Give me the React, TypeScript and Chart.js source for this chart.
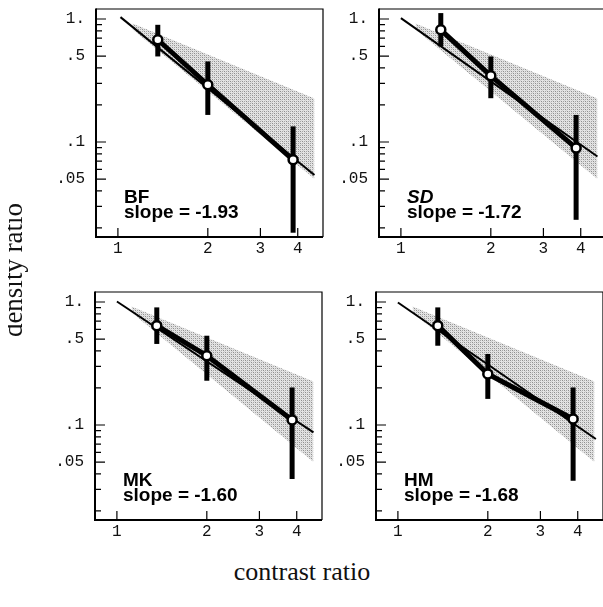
import React, { useEffect, useRef } from "react";
import { Chart, registerables } from "chart.js";

Chart.register(...registerables);

// ---------- data ----------
const contrastRatio = [1.36, 2.0, 3.86];

const xTickValues = [1, 2, 3, 4];
const xTickLabels = ["1", "2", "3", "4"];
const yTickValues = [1, 0.5, 0.1, 0.05];
const yTickLabels = ["1.", ".5", ".1", ".05"];
const yMinorTicks = [0.9, 0.8, 0.7, 0.6, 0.4, 0.3, 0.2, 0.09, 0.08, 0.07, 0.06, 0.04, 0.03, 0.02];

// predicted region (stippled wedge)
const bandX = [1.12, 4.55];
const bandUpper = [0.92, 0.226];
const bandLower = [0.82, 0.05];

const observers = ["BF", "SD", "MK", "HM"];
const slopeLabels = ["-1.93", "-1.72", "-1.60", "-1.68"];

const bfDensity = [0.678, 0.292, 0.0717];
const bfLow = [0.496, 0.166, 0.0183];
const bfHigh = [0.897, 0.452, 0.134];
const bfFitX = [1.02, 4.55];
const bfFitY = [1.036, 0.054];

const sdDensity = [0.817, 0.345, 0.0892];
const sdLow = [0.598, 0.227, 0.0233];
const sdHigh = [1.117, 0.496, 0.166];
const sdFitX = [1.0, 4.55];
const sdFitY = [1.017, 0.0762];

const mkDensity = [0.642, 0.366, 0.11];
const mkLow = [0.456, 0.229, 0.0364];
const mkHigh = [0.904, 0.532, 0.202];
const mkFitX = [1.0, 4.55];
const mkFitY = [1.01, 0.087];

const hmDensity = [0.642, 0.26, 0.112];
const hmLow = [0.441, 0.163, 0.0352];
const hmHigh = [0.904, 0.378, 0.202];
const hmFitX = [1.0, 4.6];
const hmFitY = [0.99, 0.0769];

const panelData = [
  { density: bfDensity, low: bfLow, high: bfHigh, fitX: bfFitX, fitY: bfFitY },
  { density: sdDensity, low: sdLow, high: sdHigh, fitX: sdFitX, fitY: sdFitY },
  { density: mkDensity, low: mkLow, high: mkHigh, fitX: mkFitX, fitY: mkFitY },
  { density: hmDensity, low: hmLow, high: hmHigh, fitX: hmFitX, fitY: hmFitY },
];

// ---------- layout ----------
const AREA = 228;
const Y_AXIS_W = 96;
const PAD_TOP = 26;
const PAD_RIGHT = 6;
const X_AXIS_H = 36;
const panelLeft = [96, 379, 95, 376];
const panelTop = [9, 9, 292, 292];

const X_MIN = Math.pow(10, -22 / 300);
const X_MAX = Math.pow(10, (AREA - 22) / 300);
const Y_MAX = Math.pow(10, 10 / 123);
const Y_MIN = Math.pow(10, -(AREA - 10) / 123);

const TICK_FONT = '"Liberation Mono", "DejaVu Sans Mono", monospace';

function makePattern(): CanvasPattern | string {
  const c = document.createElement("canvas");
  c.width = 4;
  c.height = 4;
  const g = c.getContext("2d");
  if (!g) return "#c4c4c4";
  g.fillStyle = "#e4e4e4";
  g.fillRect(0, 0, 4, 4);
  g.fillStyle = "#8e8e8e";
  g.fillRect(0, 0, 1, 1);
  g.fillRect(2, 2, 1, 1);
  g.fillStyle = "#a6a6a6";
  g.fillRect(2, 0, 1, 1);
  g.fillRect(0, 2, 1, 1);
  g.fillStyle = "#cfcfcf";
  g.fillRect(1, 1, 1, 1);
  g.fillRect(3, 3, 1, 1);
  const p = g.createPattern(c, "repeat");
  return p || "#c4c4c4";
}

const framePlugin = {
  id: "frameTicks",
  afterDraw(chart: any) {
    const ctx = chart.ctx;
    const a = chart.chartArea;
    const xs = chart.scales.x;
    const ys = chart.scales.y;
    ctx.save();
    ctx.strokeStyle = "#000";
    ctx.lineWidth = 1.2;
    ctx.beginPath();
    ctx.moveTo(a.left, a.top);
    ctx.lineTo(a.right, a.top);
    ctx.lineTo(a.right, a.bottom);
    ctx.stroke();
    ctx.lineWidth = 2;
    ctx.beginPath();
    ctx.moveTo(a.left, a.top - 0.5);
    ctx.lineTo(a.left, a.bottom);
    ctx.lineTo(a.right, a.bottom);
    ctx.stroke();
    ctx.lineWidth = 1.2;
    ctx.beginPath();
    xTickValues.forEach((v) => {
      const px = xs.getPixelForValue(v);
      ctx.moveTo(px, a.bottom);
      ctx.lineTo(px, a.bottom - 9);
    });
    yTickValues.forEach((v) => {
      const py = ys.getPixelForValue(v);
      ctx.moveTo(a.left, py);
      ctx.lineTo(a.left + 10, py);
    });
    yMinorTicks.forEach((v) => {
      const py = ys.getPixelForValue(v);
      ctx.moveTo(a.left, py);
      ctx.lineTo(a.left + 6, py);
    });
    ctx.stroke();
    const opts = chart.options.plugins.frameTicks || {};
    ctx.fillStyle = "#000";
    ctx.textAlign = "left";
    ctx.textBaseline = "alphabetic";
    ctx.font = (opts.italic ? "italic " : "") + 'bold 19px "Liberation Sans", Arial, sans-serif';
    ctx.fillText(opts.name || "", a.left + 28, a.top + 194);
    ctx.font = 'bold 19px "Liberation Sans", Arial, sans-serif';
    ctx.fillText("slope = " + (opts.slope || ""), a.left + 28, a.top + 209);
    ctx.restore();
  },
};

function Panel({ index }: { index: number }) {
  const ref = useRef<HTMLCanvasElement | null>(null);
  useEffect(() => {
    if (!ref.current) return;
    const d = panelData[index];
    const pattern = makePattern();
    const pts = (xsArr: number[], ysArr: number[]) => xsArr.map((x, i) => ({ x, y: ysArr[i] }));
    const errorSets = contrastRatio.map((x, i) => ({
      data: [
        { x, y: d.low[i] },
        { x, y: d.high[i] },
      ],
      showLine: true,
      borderColor: "#000",
      borderWidth: 5,
      borderCapStyle: "butt",
      pointRadius: 0,
      fill: false,
      order: 2,
    }));
    const chart = new Chart(ref.current, {
      type: "line",
      data: {
        datasets: [
          {
            data: pts(bandX, bandUpper),
            showLine: true,
            borderWidth: 0,
            borderColor: "rgba(0,0,0,0)",
            pointRadius: 0,
            backgroundColor: pattern as any,
            fill: "+1",
            order: 6,
          },
          {
            data: pts(bandX, bandLower),
            showLine: true,
            borderWidth: 0,
            borderColor: "rgba(0,0,0,0)",
            pointRadius: 0,
            fill: false,
            order: 6,
          },
          {
            data: pts(d.fitX, d.fitY),
            showLine: true,
            borderColor: "#000",
            borderWidth: 2,
            pointRadius: 0,
            fill: false,
            order: 4,
          },
          {
            data: pts(contrastRatio, d.density),
            showLine: true,
            borderColor: "#000",
            borderWidth: 5,
            borderJoinStyle: "round",
            pointRadius: 0,
            fill: false,
            order: 3,
          },
          ...errorSets,
          {
            data: pts(contrastRatio, d.density),
            showLine: false,
            pointRadius: 4.5,
            pointBackgroundColor: "#fff",
            pointBorderColor: "#000",
            pointBorderWidth: 2.5,
            fill: false,
            order: 1,
          },
        ] as any,
      },
      options: {
        animation: false,
        responsive: false,
        events: [],
        layout: { padding: { top: PAD_TOP, right: PAD_RIGHT, left: 0, bottom: 0 } },
        plugins: {
          legend: { display: false },
          tooltip: { enabled: false },
          frameTicks: { name: observers[index], slope: slopeLabels[index], italic: index === 1 },
        } as any,
        scales: {
          x: {
            type: "logarithmic",
            position: "bottom",
            min: X_MIN,
            max: X_MAX,
            bounds: "data",
            grid: { display: false, drawTicks: false },
            border: { display: false },
            ticks: {
              autoSkip: false,
              maxRotation: 0,
              padding: 2,
              color: "#111",
              font: { family: TICK_FONT, size: 16 },
              callback: (_v: any, i: number) => xTickLabels[i],
            },
            afterBuildTicks: (s: any) => {
              s.ticks = xTickValues.map((v) => ({ value: v }));
            },
            afterFit: (s: any) => {
              s.height = X_AXIS_H;
            },
          },
          y: {
            type: "logarithmic",
            position: "left",
            min: Y_MIN,
            max: Y_MAX,
            bounds: "data",
            grid: { display: false, drawTicks: false },
            border: { display: false },
            ticks: {
              autoSkip: false,
              padding: 11,
              color: "#111",
              font: { family: TICK_FONT, size: 16 },
              callback: (_v: any, i: number) => yTickLabels[i],
            },
            afterBuildTicks: (s: any) => {
              s.ticks = yTickValues.map((v) => ({ value: v }));
            },
            afterFit: (s: any) => {
              s.width = Y_AXIS_W;
            },
          },
        } as any,
      },
      plugins: [framePlugin],
    });
    return () => chart.destroy();
  }, [index]);

  const w = Y_AXIS_W + AREA + PAD_RIGHT;
  const h = PAD_TOP + AREA + X_AXIS_H;
  return (
    <canvas
      ref={ref}
      width={w}
      height={h}
      style={{
        position: "absolute",
        left: panelLeft[index] - Y_AXIS_W,
        top: panelTop[index] - PAD_TOP,
        width: w,
        height: h,
      }}
    />
  );
}

export default function App() {
  return (
    <div
      style={{
        position: "fixed",
        left: 0,
        top: 0,
        width: 603,
        height: 607,
        overflow: "hidden",
        background: "#fff",
      }}
    >
      {[0, 1, 2, 3].map((i) => (
        <Panel key={i} index={i} />
      ))}
      <div
        style={{
          position: "absolute",
          left: 8,
          top: 150,
          width: 40,
          height: 250,
          overflow: "hidden",
        }}
      >
        <div
          style={{
            position: "absolute",
            left: 5,
            top: 120,
            transform: "translate(-50%, -50%) rotate(-90deg)",
            whiteSpace: "nowrap",
            fontFamily: '"Liberation Serif", "Times New Roman", serif',
            fontSize: 27,
            lineHeight: "27px",
            color: "#111",
          }}
        >
          density ratio
        </div>
      </div>
      <div
        style={{
          position: "absolute",
          left: 302,
          top: 572,
          transform: "translate(-50%, -50%)",
          whiteSpace: "nowrap",
          fontFamily: '"Liberation Serif", "Times New Roman", serif',
          fontSize: 26,
          lineHeight: "26px",
          color: "#111",
        }}
      >
        contrast ratio
      </div>
    </div>
  );
}
